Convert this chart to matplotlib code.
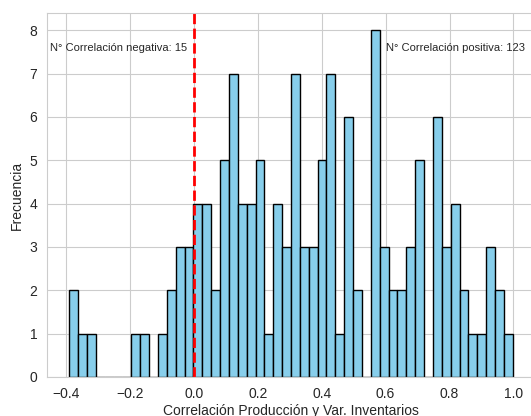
import numpy as np
import matplotlib
matplotlib.use('Agg')
import matplotlib.pyplot as plt
import seaborn as sns

sns.set_style('whitegrid')
plt.rcParams['font.family'] = ['Liberation Sans', 'DejaVu Sans']

# histogram counts (50 bins between min and max correlation)
corr_min = -0.39
corr_max = 0.998
counts = [2, 1, 1, 0, 0, 0, 0, 1, 1, 0,
          1, 2, 3, 3, 4, 4, 2, 5, 7, 4,
          4, 5, 1, 4, 3, 7, 3, 3, 5, 7,
          1, 6, 2, 0, 8, 3, 2, 2, 3, 5,
          0, 6, 3, 4, 2, 1, 1, 3, 2, 1]
n_neg = 15
n_pos = 123

edges = np.linspace(corr_min, corr_max, len(counts) + 1)

fig = plt.figure(figsize=(5.31, 4.16), dpi=100)
ax = fig.add_axes([47 / 531, 39 / 416, 488 / 531, 364 / 416])

ax.hist(edges[:-1], bins=edges, weights=counts, color='skyblue', edgecolor='black', linewidth=1.0)
ax.axvline(0, color='red', linestyle='--', linewidth=2)

ax.text(-0.45, 7.6, f'N° Correlación negativa: {n_neg}', fontsize=8, va='center', ha='left')
ax.text(0.6, 7.6, f'N° Correlación positiva: {n_pos}', fontsize=8, va='center', ha='left')

ax.set_xlabel('Correlación Producción y Var. Inventarios', fontsize=10, labelpad=2)
ax.set_ylabel('Frecuencia', fontsize=10)
ax.tick_params(labelsize=10)

fig.savefig('out.png', dpi=100)
